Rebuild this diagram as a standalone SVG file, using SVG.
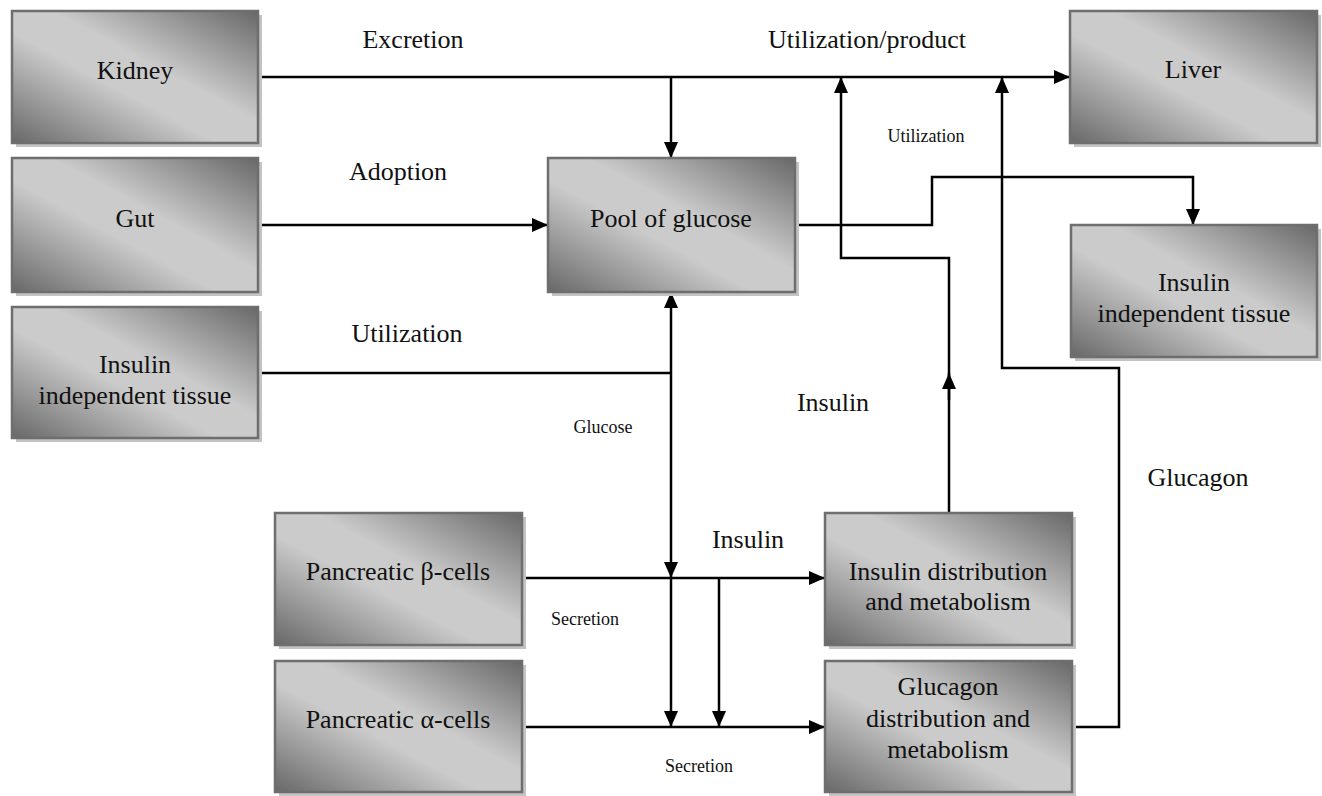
<svg xmlns="http://www.w3.org/2000/svg" width="1322" height="796" viewBox="0 0 1322 796">
<style>
.shadow{fill:#c3c3c3}
.box{fill:url(#g);stroke:#6e6e6e;stroke-width:2.5}
.t{font-size:26px;fill:#111;text-anchor:middle}
.s{font-size:18px;fill:#111;text-anchor:middle}
.c{fill:none;stroke:#000;stroke-width:2.5}
</style>
<defs>
<linearGradient id="g" x1="1" y1="0" x2="0" y2="1">
<stop offset="0" stop-color="#686868"/>
<stop offset="0.42" stop-color="#cbcbcb"/>
<stop offset="0.58" stop-color="#cbcbcb"/>
<stop offset="1" stop-color="#686868"/>
</linearGradient>
<marker id="a" markerUnits="userSpaceOnUse" markerWidth="16" markerHeight="14" viewBox="0 0 16 14" refX="16" refY="7" orient="auto">
<path d="M0,0 L16,7 L0,14 z" fill="#000"/>
</marker>
</defs>
<rect width="1322" height="796" fill="#fff"/>

<g id="connectors">
<path class="c" d="M258,77 H1070" marker-end="url(#a)"/>
<path class="c" d="M671,77 V158" marker-end="url(#a)"/>
<path class="c" d="M258,225 H548" marker-end="url(#a)"/>
<path class="c" d="M795,225 H932 V177 H1193 V225" marker-end="url(#a)"/>
<path class="c" d="M949,513 V258 H841 V77" marker-end="url(#a)"/>
<path class="c" d="M949,400 V373" marker-end="url(#a)"/>
<path class="c" d="M1072,727 H1119 V368 H1002 V77" marker-end="url(#a)"/>
<path class="c" d="M258,373 H671"/>
<path class="c" d="M671,373 V292" marker-end="url(#a)"/>
<path class="c" d="M671,373 V578" marker-end="url(#a)"/>
<path class="c" d="M671,578 V727" marker-end="url(#a)"/>
<path class="c" d="M522,578 H825" marker-end="url(#a)"/>
<path class="c" d="M719,578 V727" marker-end="url(#a)"/>
<path class="c" d="M522,727 H825" marker-end="url(#a)"/>
</g>

<g font-family="'Liberation Serif', 'Times New Roman', Times, serif">
<g id="labels">
<text class="t" x="413" y="48">Excretion</text>
<text class="t" x="867" y="48">Utilization/product</text>
<text class="t" x="398" y="180">Adoption</text>
<text class="t" x="407" y="342">Utilization</text>
<text class="s" x="926" y="142">Utilization</text>
<text class="s" x="603" y="433">Glucose</text>
<text class="t" x="833" y="411">Insulin</text>
<text class="t" x="748" y="548">Insulin</text>
<text class="s" x="585" y="625">Secretion</text>
<text class="s" x="699" y="772">Secretion</text>
<text class="t" x="1198" y="486">Glucagon</text>
</g>

<g id="kidney">
<rect class="shadow" x="16" y="15" width="246" height="132"/>
<rect class="box" x="12" y="11" width="246" height="132"/>
<text class="t" x="135" y="79">Kidney</text>
</g>
<g id="gut">
<rect class="shadow" x="16" y="162" width="246" height="134"/>
<rect class="box" x="12" y="158" width="246" height="134"/>
<text class="t" x="135" y="227">Gut</text>
</g>
<g id="insulin-independent-left">
<rect class="shadow" x="16" y="311" width="246" height="131"/>
<rect class="box" x="12" y="307" width="246" height="131"/>
<text class="t" x="135" y="373">Insulin</text>
<text class="t" x="135" y="404">independent tissue</text>
</g>
<g id="pool">
<rect class="shadow" x="552" y="162" width="247" height="134"/>
<rect class="box" x="548" y="158" width="247" height="134"/>
<text class="t" x="671" y="227">Pool of glucose</text>
</g>
<g id="liver">
<rect class="shadow" x="1074" y="15" width="247" height="132"/>
<rect class="box" x="1070" y="11" width="247" height="132"/>
<text class="t" x="1193" y="78">Liver</text>
</g>
<g id="insulin-independent-right">
<rect class="shadow" x="1075" y="229" width="246" height="132"/>
<rect class="box" x="1071" y="225" width="246" height="132"/>
<text class="t" x="1194" y="291">Insulin</text>
<text class="t" x="1194" y="322">independent tissue</text>
</g>
<g id="beta-cells">
<rect class="shadow" x="279" y="517" width="247" height="132"/>
<rect class="box" x="275" y="513" width="247" height="132"/>
<text class="t" x="398" y="580">Pancreatic β-cells</text>
</g>
<g id="alpha-cells">
<rect class="shadow" x="279" y="665" width="247" height="131"/>
<rect class="box" x="275" y="661" width="247" height="131"/>
<text class="t" x="398" y="728">Pancreatic α-cells</text>
</g>
<g id="insulin-distribution">
<rect class="shadow" x="829" y="517" width="247" height="132"/>
<rect class="box" x="825" y="513" width="247" height="132"/>
<text class="t" x="948" y="580">Insulin distribution</text>
<text class="t" x="948" y="610">and metabolism</text>
</g>
<g id="glucagon-distribution">
<rect class="shadow" x="829" y="665" width="247" height="131"/>
<rect class="box" x="825" y="661" width="247" height="131"/>
<text class="t" x="948" y="695">Glucagon</text>
<text class="t" x="948" y="727">distribution and</text>
<text class="t" x="948" y="758">metabolism</text>
</g>
</g>
</svg>
